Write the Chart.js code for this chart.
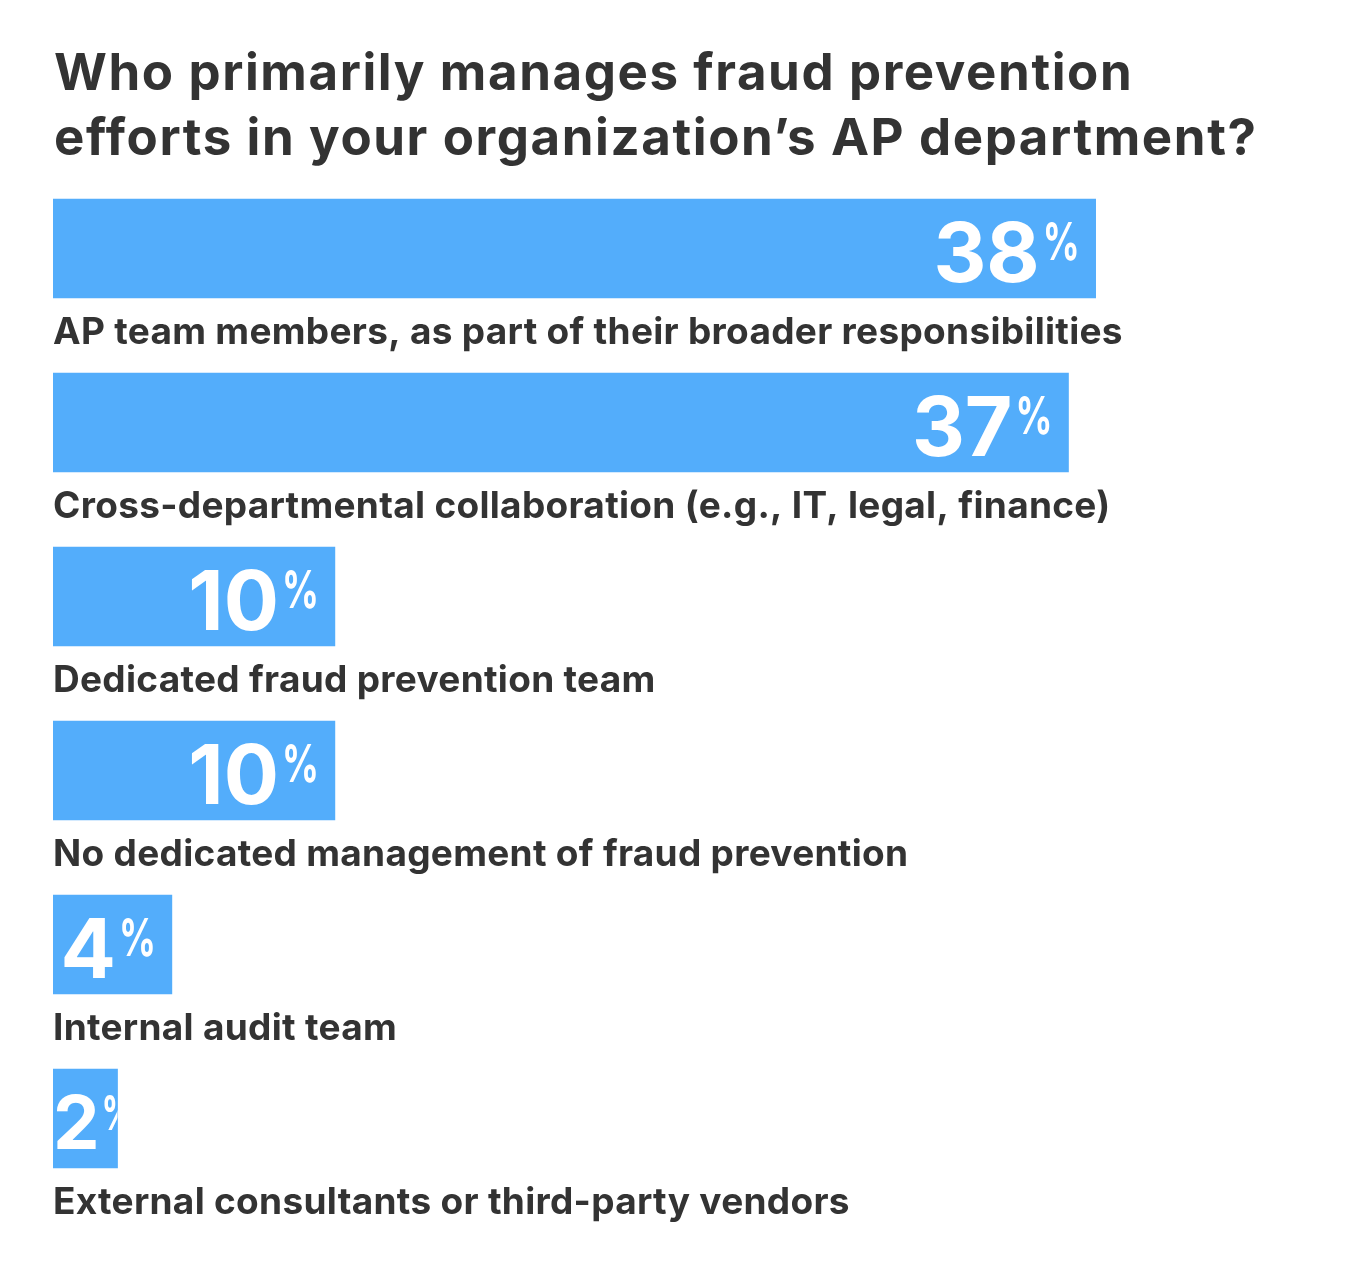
<!DOCTYPE html>
<html>
<head>
<meta charset="utf-8">
<script src="https://cdn.jsdelivr.net/npm/chart.js@4.4.1/dist/chart.umd.min.js"></script>
<style>
html,body{margin:0;padding:0;background:#ffffff;}
#wrap{width:1357px;height:1273px;position:relative;}
</style>
</head>
<body>
<div id="wrap"><canvas id="c" width="1357" height="1273"></canvas></div>
<script>
const titleLines = ["Who primarily manages fraud prevention", "efforts in your organization\u2019s AP department?"];
const categories = [
  "AP team members, as part of their broader responsibilities",
  "Cross-departmental collaboration (e.g., IT, legal, finance)",
  "Dedicated fraud prevention team",
  "No dedicated management of fraud prevention",
  "Internal audit team",
  "External consultants or third-party vendors"
];
const values = [38, 37, 10, 10, 4, 2];
const AXIS_MIN = -0.375;
const AXIS_MAX = 40;

const BAR_COLOR = '#53adfb';
const TEXT_COLOR = '#333333';
const FONT = 'Inter, "Noto Sans", sans-serif';

const labelPlugin = {
  id: 'labels',
  afterDatasetsDraw(chart) {
    const ctx = chart.ctx;
    const meta = chart.getDatasetMeta(0);
    ctx.save();
    ctx.fillStyle = TEXT_COLOR;
    ctx.textAlign = 'left';
    ctx.textBaseline = 'alphabetic';
    ctx.font = '700 51px ' + FONT;
    ctx.letterSpacing = '1.6px';
    ctx.fillText(titleLines[0], 54, 90);
    ctx.fillText(titleLines[1], 54, 155);
    meta.data.forEach((bar, i) => {
      const left = Math.min(bar.base, bar.x);
      const right = Math.max(bar.base, bar.x);
      const top = bar.y - bar.height / 2;
      const bottom = bar.y + bar.height / 2;
      ctx.fillStyle = TEXT_COLOR;
      ctx.font = '700 37px ' + FONT;
      ctx.letterSpacing = '0.3px';
      ctx.textAlign = 'left';
      ctx.fillText(categories[i], left, bottom + 46);
      ctx.letterSpacing = '0px';
      // value label
      ctx.save();
      ctx.beginPath();
      ctx.rect(left, top, right - left, bottom - top);
      ctx.clip();
      ctx.fillStyle = '#ffffff';
      const num = String(values[i]);
      let big = 82, small = 52, gap = 3, sx = 0.7;
      ctx.font = '700 ' + big + 'px ' + FONT;
      let nw = ctx.measureText(num).width;
      ctx.font = '700 ' + small + 'px ' + FONT;
      let pw = ctx.measureText('%').width * sx;
      if (nw + gap + pw + 16 > right - left) {
        big = 74; small = 48; gap = 2;
        ctx.font = '700 ' + big + 'px ' + FONT;
        nw = ctx.measureText(num).width;
        ctx.font = '700 ' + small + 'px ' + FONT;
        pw = ctx.measureText('%').width * sx;
      }
      const total = nw + gap + pw;
      let x = right - 16 - total;
      if (x < left) x = left;
      const base = bar.y + big * 0.41;
      const digitTop = base - big * 0.727;
      ctx.font = '700 ' + big + 'px ' + FONT;
      ctx.fillText(num, x, base);
      ctx.font = '700 ' + small + 'px ' + FONT;
      ctx.save();
      ctx.translate(x + nw + gap, digitTop + small * 0.73);
      ctx.scale(sx, 1);
      ctx.fillText('%', 0, 0);
      ctx.restore();
      ctx.restore();
    });
    ctx.restore();
  }
};

new Chart(document.getElementById('c'), {
  type: 'bar',
  data: {
    labels: categories,
    datasets: [{
      data: values,
      base: AXIS_MIN,
      backgroundColor: BAR_COLOR,
      borderWidth: 0,
      barThickness: 99
    }]
  },
  options: {
    indexAxis: 'y',
    responsive: false,
    animation: false,
    devicePixelRatio: 1,
    layout: { padding: { left: 53, right: 207, top: 161.5, bottom: 67.5 } },
    scales: {
      x: { type: 'linear', min: AXIS_MIN, max: AXIS_MAX, display: false },
      y: { type: 'category', display: false, offset: true }
    },
    plugins: {
      legend: { display: false },
      tooltip: { enabled: false },
      title: { display: false }
    }
  },
  plugins: [labelPlugin]
});
</script>
</body>
</html>
